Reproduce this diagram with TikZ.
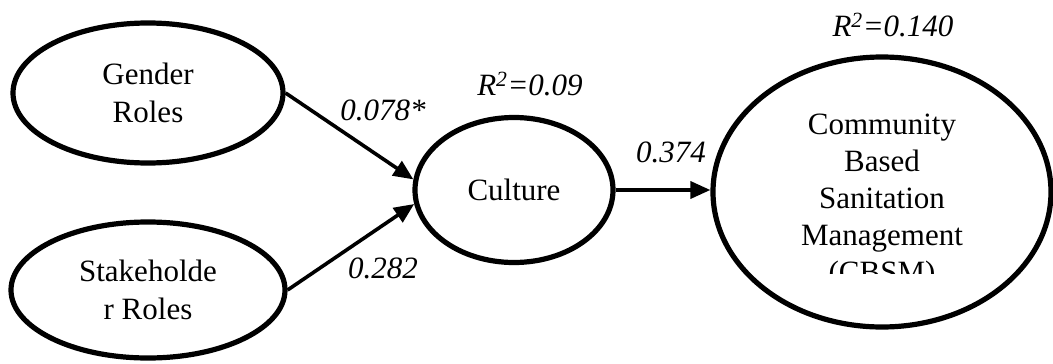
\documentclass[tikz,border=0pt]{standalone}
\usepackage{fontspec}
\setmainfont{Liberation Serif}
\usetikzlibrary{arrows.meta,shapes.geometric}
\tikzset{
  construct/.style={draw=black, line width=5.2pt, ellipse, inner sep=0pt, align=center,
    font=\fontsize{31}{38}\selectfont},
  pathlab/.style={font=\fontsize{31}{38}\selectfont\itshape, inner sep=0pt},
  patharrow/.style={line width=3.6pt, -{Triangle[length=20pt,width=17pt]}},
}
\begin{document}
\begin{tikzpicture}[x=1pt,y=-1pt]
\useasboundingbox (0,0) rectangle (1053,364);
\node[construct, minimum width=270pt, minimum height=140pt] (gender) at (148,93) {Gender\\Roles};
\node[construct, minimum width=274pt, minimum height=136pt] (stake) at (148,290) {Stakeholde\\r Roles};
\node[construct, minimum width=198pt, minimum height=145pt] (culture) at (514,190) {Culture};
\node[construct, minimum width=338pt, minimum height=270pt] (cbsm) at (882,192) {};
\begin{scope}
  \clip (700,60) rectangle (1053,273);
  \node[align=center, inner sep=0pt, font=\fontsize{31}{37}\selectfont] (cbsmtext) at (882,202)
    {Community\\Based\\Sanitation\\Management\\(CBSM)};
\end{scope}
\draw[patharrow] (gender.east) -- (culture.174);
\draw[patharrow] (stake.east) -- (culture.188);
\draw[patharrow] (culture.east) -- (culture.east -| cbsm.west);
\node[pathlab] (l1) at (383,110) {0.078*};
\node[pathlab] (l2) at (383,268) {0.282};
\node[pathlab] (l3) at (671,152) {0.374};
\node[pathlab] (r1) at (530,84) {R\textsuperscript{2}=0.09};
\node[pathlab] (r2) at (893,25) {R\textsuperscript{2}=0.140};
\end{tikzpicture}
\end{document}
